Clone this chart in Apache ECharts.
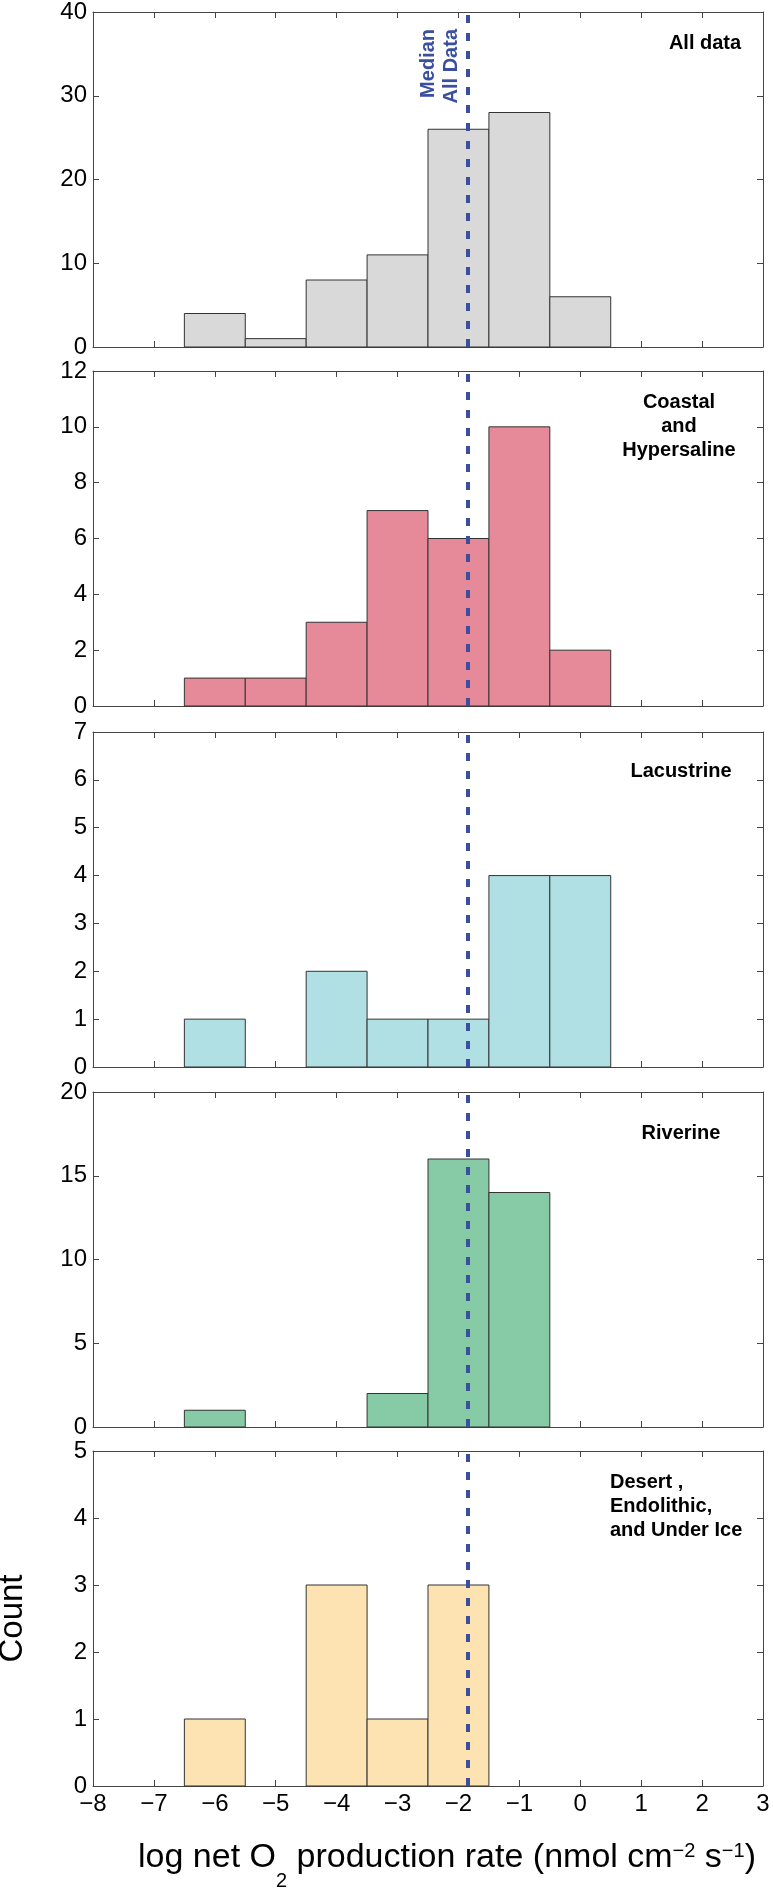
<!DOCTYPE html>
<html>
<head>
<meta charset="utf-8">
<title>Net O2 production histograms</title>
<script src="https://cdn.jsdelivr.net/npm/echarts@6.0.0/dist/echarts.min.js"></script>
<style>
  html, body { margin: 0; padding: 0; background: #fff; }
  #main { width: 773px; height: 1897px; }
</style>
</head>
<body>
<div id="main"></div>
<script>
// histogram bins (log10 of net O2 production rate), 1 unit wide
const binCenters = [-6, -5, -4, -3, -2, -1, 0]
const binWidth = 1

// counts per bin for each environment
const allData = [4, 1, 8, 11, 26, 28, 6]
const coastal = [1, 1, 3, 7, 6, 10, 2]
const lacustrine = [1, 0, 2, 1, 1, 4, 4]
const riverine = [1, 0, 0, 2, 16, 14, 0]
const desert = [1, 0, 3, 1, 3, 0, 0]

const medianAllData = -1.84

// axes
const xMin = -8
const xMax = 3
const yMaxes = [40, 12, 7, 20, 5]
const ySteps = [10, 2, 1, 5, 1]

const panelNames = ['All data', 'Coastal\nand\nHypersaline', 'Lacustrine', 'Riverine', 'Desert ,\nEndolithic,\nand Under Ice']
const panelCounts = [allData, coastal, lacustrine, riverine, desert]
const panelColors = ['#d9d9d9', '#e68a99', '#b0dfe4', '#86cba5', '#fde3b1']

const font = "'Liberation Sans', Arial, Helvetica, sans-serif"
const axisColor = '#444'
const medianColor = '#3b4fa0'

const gridLeft = 93
const gridW = 670
const gridTops = [12, 371, 732, 1092, 1451]
const gridH = 335

const fmtTick = (v) => (v < 0 ? '\u2212' + Math.abs(v) : String(v))

function renderBin(params, api) {
  const n = api.value(2)
  if (!n) return null
  const p0 = api.coord([api.value(0), n])
  const p1 = api.coord([api.value(1), 0])
  return {
    type: 'rect',
    shape: { x: p0[0], y: p0[1], width: p1[0] - p0[0], height: p1[1] - p0[1] },
    style: { fill: api.visual('color'), stroke: '#333', lineWidth: 1 }
  }
}

const grid = []
const xAxis = []
const yAxis = []
const series = []

panelCounts.forEach((counts, i) => {
  const last = i === panelCounts.length - 1
  grid.push({
    left: gridLeft,
    width: gridW,
    top: gridTops[i],
    height: gridH,
    containLabel: false,
    outerBoundsMode: 'none'
  })

  const xBase = {
    gridIndex: i,
    type: 'value',
    min: xMin,
    max: xMax,
    interval: 1,
    axisLine: { show: true, onZero: false, lineStyle: { color: axisColor, width: 1 } },
    axisTick: { show: true, inside: true, length: 6, lineStyle: { color: axisColor } },
    splitLine: { show: false }
  }
  xAxis.push({
    ...xBase,
    position: 'bottom',
    axisLabel: {
      show: last,
      formatter: fmtTick,
      fontSize: 24,
      color: '#000',
      fontFamily: font,
      margin: 6
    },
    name: last
      ? '{m|log net O}{sub|2}{m| production rate (nmol cm}{sup|\u22122}{m| s}{sup|\u22121}{m|)}'
      : '',
    nameLocation: 'middle',
    nameGap: 55,
    nameMoveOverlap: false,
    nameTextStyle: {
      padding: [0, 0, 0, 38],
      rich: {
        m: { fontSize: 34, lineHeight: 36, verticalAlign: 'top', color: '#000', fontFamily: font },
        sub: { fontSize: 20, lineHeight: 20, verticalAlign: 'top', padding: [30, 0, 0, 0], color: '#000', fontFamily: font },
        sup: { fontSize: 20, lineHeight: 20, verticalAlign: 'top', color: '#000', fontFamily: font }
      }
    }
  })
  xAxis.push({ ...xBase, position: 'top', axisLabel: { show: false } })

  const yBase = {
    gridIndex: i,
    type: 'value',
    min: 0,
    max: yMaxes[i],
    interval: ySteps[i],
    axisLine: { show: true, onZero: false, lineStyle: { color: axisColor, width: 1 } },
    axisTick: { show: true, inside: true, length: 6, lineStyle: { color: axisColor } },
    splitLine: { show: false }
  }
  yAxis.push({
    ...yBase,
    position: 'left',
    axisLabel: { fontSize: 24, color: '#000', fontFamily: font, margin: 6 }
  })
  yAxis.push({ ...yBase, position: 'right', axisLabel: { show: false } })

  series.push({
    type: 'custom',
    name: panelNames[i],
    xAxisIndex: 2 * i,
    yAxisIndex: 2 * i,
    renderItem: renderBin,
    encode: { x: [0, 1], y: 2 },
    itemStyle: { color: panelColors[i] },
    data: binCenters.map((c, k) => [c - binWidth / 2, c + binWidth / 2, counts[k]]),
    markLine: {
      silent: true,
      symbol: 'none',
      animation: false,
      lineStyle: { color: medianColor, width: 4, type: [8, 10] },
      label: { show: false },
      data: [{ xAxis: medianAllData }]
    }
  })
})

// panel captions, top right of each plot
const captionPos = [
  { x: 705, y: 43, align: 'center' },
  { x: 679, y: 426, align: 'center' },
  { x: 681, y: 771, align: 'center' },
  { x: 681, y: 1133, align: 'center' },
  { x: 610, y: 1506, align: 'left' }
]
const graphic = panelNames.map((t, i) => ({
  type: 'text',
  x: captionPos[i].x,
  y: captionPos[i].y,
  z: 10,
  style: {
    text: t,
    font: 'bold 20px ' + font,
    fill: '#000',
    lineHeight: 24,
    align: captionPos[i].align,
    verticalAlign: 'middle'
  }
}))

// shared y title, centred on the bottom panel
graphic.push({
  type: 'text',
  x: 13,
  y: gridTops[4] + gridH / 2,
  rotation: Math.PI / 2,
  style: {
    text: 'Count',
    font: '33px ' + font,
    fill: '#000',
    align: 'center',
    verticalAlign: 'middle'
  }
})

const chart = echarts.init(document.getElementById('main'), null, { renderer: 'canvas' })
chart.setOption({
  animation: false,
  backgroundColor: '#fff',
  grid,
  xAxis,
  yAxis,
  series,
  graphic
})

// rotated "Median / All Data" note, placed left of the median line in the top panel
const medianPx = chart.convertToPixel({ xAxisIndex: 0 }, medianAllData)
chart.setOption({
  graphic: graphic.concat([{
    type: 'text',
    x: medianPx - 5,
    y: gridTops[0] + 17,
    rotation: Math.PI / 2,
    z: 10,
    style: {
      text: 'Median\nAll Data',
      font: 'bold 20px ' + font,
      fill: medianColor,
      lineHeight: 23,
      align: 'right',
      verticalAlign: 'bottom'
    }
  }])
})
</script>
</body>
</html>
